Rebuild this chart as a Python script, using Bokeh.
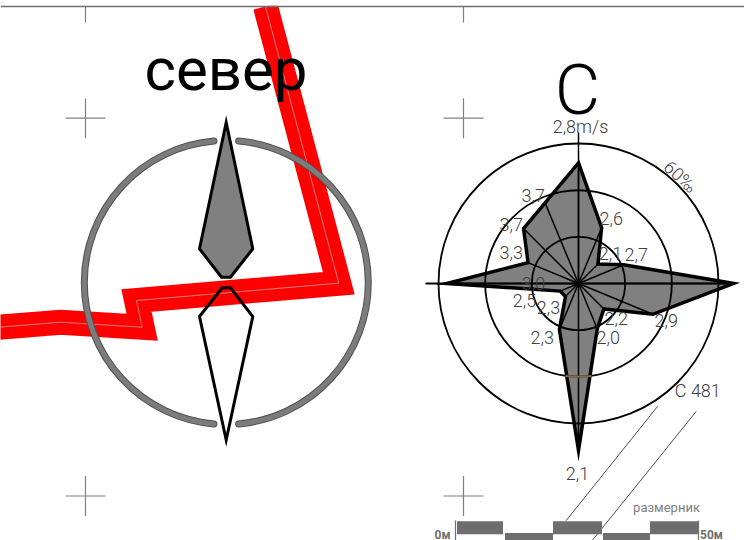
import math
from bokeh.plotting import figure
from bokeh.models import Range1d
from bokeh.core.properties import value
from bokeh.embed import file_html
from bokeh.resources import INLINE

# wind rose data (per mille frequency, clockwise from N)
directions = ["N", "NNE", "NE", "ENE", "E", "ESE", "SE", "SSE", "S", "SSW", "SW", "WSW", "W", "WNW", "NW", "NNW"]
frequency = [51.7, 25.9, 11.8, 21.0, 66.5, 34.5, 15.4, 21.0, 71.5, 21.4, 7.9, 8.5, 56.5, 23.4, 33.3, 37.4]
ring_levels = [20, 40, 60]
speed_labels = ["2,8m/s", "2,6", "2,1", "2,7", "2,9", "2,2", "2,0", "2,1", "2,3", "2,3", "2,5", "3,0", "3,3", "3,7", "3,7"]
speed_x = [580, 610.7, 610, 635.7, 665.7, 615.7, 607.7, 577, 541.7, 548, 524, 533, 510.7, 510.7, 532.7]
speed_y = [126, 218, 253, 254, 320, 318, 337, 473, 337, 307, 300, 283, 252, 224, 195]

# geometry of the drawing
road_x = [-5, 60, 141.7, 136, 338.3, 265]
road_y = [327, 321.7, 326.7, 300, 282.7, 6]
needle_top_x = [225.7, 252.3, 230, 221, 199]
needle_top_y = [122, 248.3, 276.7, 276.7, 248.3]
needle_bot_x = [221.7, 230, 252.3, 225.7, 199]
needle_bot_y = [287.3, 287.3, 316, 439.5, 316]
cross_x = [85, 463, 85, 463]
cross_y = [117.7, 117.7, 495.5, 495.5]
scale_top = [(456, 503), (552, 602), (649, 698)]
scale_low = [(504, 553), (602, 650)]

CX, CY = 578, 283
K = 140 / 60
LIGHT = value("Roboto Light, Roboto")

def polar(r, i):
    t = math.radians(i * 22.5)
    return CX + r * math.sin(t), CY - r * math.cos(t)

p = figure(width=744, height=540, output_backend="svg", toolbar_location=None,
           x_range=Range1d(0, 744), y_range=Range1d(540, 0), min_border=0,
           margin=(0, 0, 0, 0))
p.axis.visible = False
p.grid.visible = False
p.outline_line_color = None

GREY = "#808080"
# sheet border and registration marks
for x in (85, 463):
    p.line([x, x], [6, 22], line_color="#808080", line_width=1.2)
for x, y in zip(cross_x, cross_y):
    p.line([x - 20, x + 20], [y, y], line_color="#808080", line_width=1.2)
    p.line([x, x], [y - 20, y + 20], line_color="#808080", line_width=1.2)

# road
p.line(road_x, road_y, line_color="#ff0000", line_width=25, line_join="miter")
p.line(road_x, road_y, line_color="#d0b0b0", line_width=0.7, line_join="miter")
p.patch([240, 300, 300, 240], [-20, -20, 5.3, 5.3], fill_color="white", line_color=None)
p.line([0, 744], [6, 6], line_color="#707070", line_width=1.5)

# compass
for col, w in (("#505050", 7), ("#7c7c7c", 5)):
    p.arc(225.8, 282, radius=142, start_angle=math.radians(-85), end_angle=math.radians(85),
          line_color=col, line_width=w, line_cap="round")
    p.arc(225.8, 282, radius=142, start_angle=math.radians(95), end_angle=math.radians(265),
          line_color=col, line_width=w, line_cap="round")
p.patch(needle_top_x, needle_top_y, fill_color=GREY, line_color="black", line_width=3, line_join="miter")
p.patch(needle_bot_x, needle_bot_y, fill_color=None, line_color="black", line_width=3, line_join="miter")
p.text([225.5], [69], text=["север"], text_font=value("Roboto"), text_font_size="60px",
       text_align="center", text_baseline="alphabetic", text_color="black")
p.text([577], [89], text=["С"], text_font=LIGHT, text_font_size="70px",
       text_align="center", text_baseline="alphabetic", text_color="black")

# wind rose
pts = [polar(f * K, i) for i, f in enumerate(frequency)]
p.patch([a for a, _ in pts], [b for _, b in pts], fill_color=GREY, line_color="black",
        line_width=3.5, line_join="miter")
for a, b in pts:
    p.line([CX, a], [CY, b], line_color="black", line_width=1.5)
p.line([CX, CX], [CY, CY - 151], line_color="black", line_width=1.5)
p.line([CX - 153, CX + 153], [CY, CY], line_color="black", line_width=2)
p.circle([CX] * 3, [CY] * 3, radius=[v * K for v in ring_levels], fill_color=None,
         line_color="black", line_width=1.8)
p.arc(CX, CY, radius=40 * K, start_angle=math.radians(-98), end_angle=math.radians(-82),
      line_color="#8a6a48", line_width=2)

p.text(speed_x, speed_y, text=speed_labels, text_font=LIGHT, text_font_size="18px",
       text_align="center", text_baseline="middle", text_color="#404040")
p.text([680], [176], text=["60‰"], angle=[-math.radians(42)], text_font=LIGHT,
       text_font_size="18px", text_align="center", text_baseline="middle", text_color="#404040")
p.text([701.7], [390], text=["С   481"], text_font=LIGHT, text_font_size="18px",
       text_align="center", text_baseline="middle", text_color="#404040")

# leader lines
p.line([657, 565.7], [406, 520], line_color="#505050", line_width=1)
p.line([695.7, 591.7], [411, 540], line_color="#505050", line_width=1)

# scale bar
for x in (455, 698):
    p.line([x, x], [520, 540], line_color="#707070", line_width=1.2)
for a, b in scale_top:
    p.line([a + 7, b - 7], [527.3, 527.3], line_color="#6e6e6e", line_width=13, line_cap="square")
for a, b in scale_low:
    p.line([a + 7, b - 7], [539, 539], line_color="#6e6e6e", line_width=13, line_cap="square")
p.text([666], [507], text=["размерник"], text_font=value("Roboto"), text_font_size="13px",
       text_align="center", text_baseline="middle", text_color="#808080")
p.text([442, 711], [534, 534], text=["0м", "50м"], text_font=value("Roboto"), text_font_size="12px",
       text_font_style="bold", text_align="center", text_baseline="middle", text_color="#707070")

open("out.html", "w").write(file_html(p, INLINE))
